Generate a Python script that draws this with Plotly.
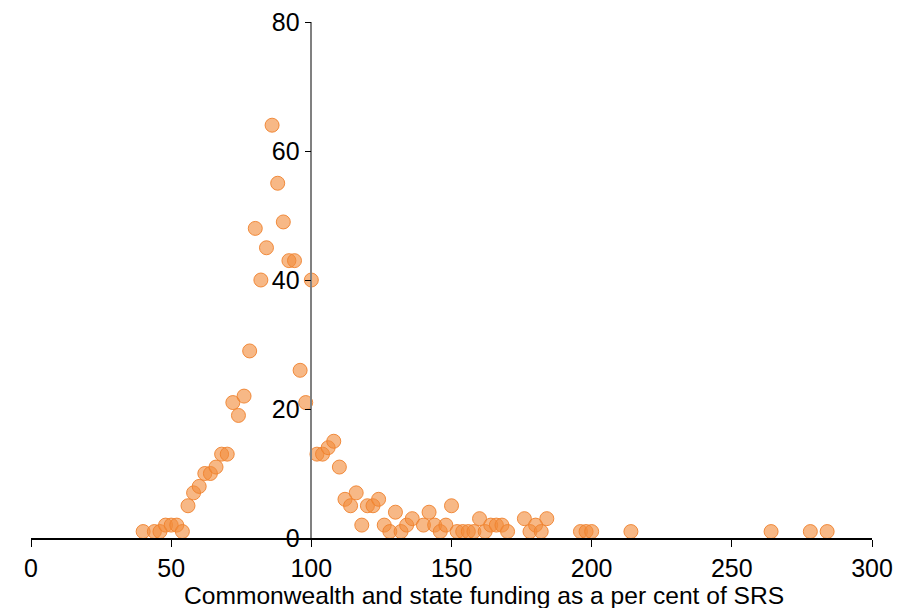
import plotly.graph_objects as go

x_vals = [40, 44, 46, 48, 50, 52, 54, 56, 58, 60, 62, 64, 66, 68, 70, 72, 74, 76, 78,
          80, 82, 84, 86, 88, 90, 92, 94, 96, 98, 100,
          102, 104, 106, 108, 110, 112, 114, 116, 118, 120, 122, 124, 126, 128, 130,
          132, 134, 136, 140, 142, 144, 146, 148, 150, 152, 154, 156, 158, 160, 162,
          164, 166, 168, 170, 176, 178, 180, 182, 184, 196, 198, 200, 214, 264, 278, 284]
y_vals = [1, 1, 1, 2, 2, 2, 1, 5, 7, 8, 10, 10, 11, 13, 13, 21, 19, 22, 29,
          48, 40, 45, 64, 55, 49, 43, 43, 26, 21, 40,
          13, 13, 14, 15, 11, 6, 5, 7, 2, 5, 5, 6, 2, 1, 4,
          1, 2, 3, 2, 4, 2, 1, 2, 5, 1, 1, 1, 1, 3, 1,
          2, 2, 2, 1, 3, 1, 2, 1, 3, 1, 1, 1, 1, 1, 1, 1]

x_ticks = [0, 50, 100, 150, 200, 250, 300]
y_ticks = [0, 20, 40, 60, 80]
x_title = "Commonwealth and state funding as a per cent of SRS"

fig = go.Figure()
fig.add_trace(go.Scatter(
    x=x_vals, y=y_vals, mode="markers",
    marker=dict(size=14, color="rgba(242,140,60,0.62)",
                line=dict(color="rgba(240,130,45,0.9)", width=1)),
    cliponaxis=False, showlegend=False,
))

fig.update_layout(
    width=913, height=608,
    margin=dict(l=23, r=49, t=14, b=78),
    paper_bgcolor="white", plot_bgcolor="white",
    font=dict(family="Liberation Sans, Arial, sans-serif", size=25, color="black"),
    xaxis=dict(range=[0, 300], tickvals=x_ticks, showgrid=False, zeroline=False,
               automargin=False, ticklabeloverflow="allow",
               showline=True, linecolor="black", linewidth=1.5,
               ticks="outside", ticklen=7, tickcolor="black", tickwidth=1.3,
               tickfont=dict(size=25)),
    yaxis=dict(range=[0, 80], tickvals=y_ticks, showgrid=False, zeroline=False,
               anchor="free", position=1/3, automargin=False,
               ticklabeloverflow="allow",
               showline=True, linecolor="#808080", linewidth=1.5,
               ticks="outside", ticklen=6, tickcolor="black", tickwidth=1.3,
               tickfont=dict(size=25)),
    annotations=[dict(text=x_title, xref="paper", yref="paper", x=0.5386, y=-0.111,
                      xanchor="center", yanchor="middle", showarrow=False,
                      font=dict(size=24.6, color="black"))],
)

fig.write_html("out.html")
